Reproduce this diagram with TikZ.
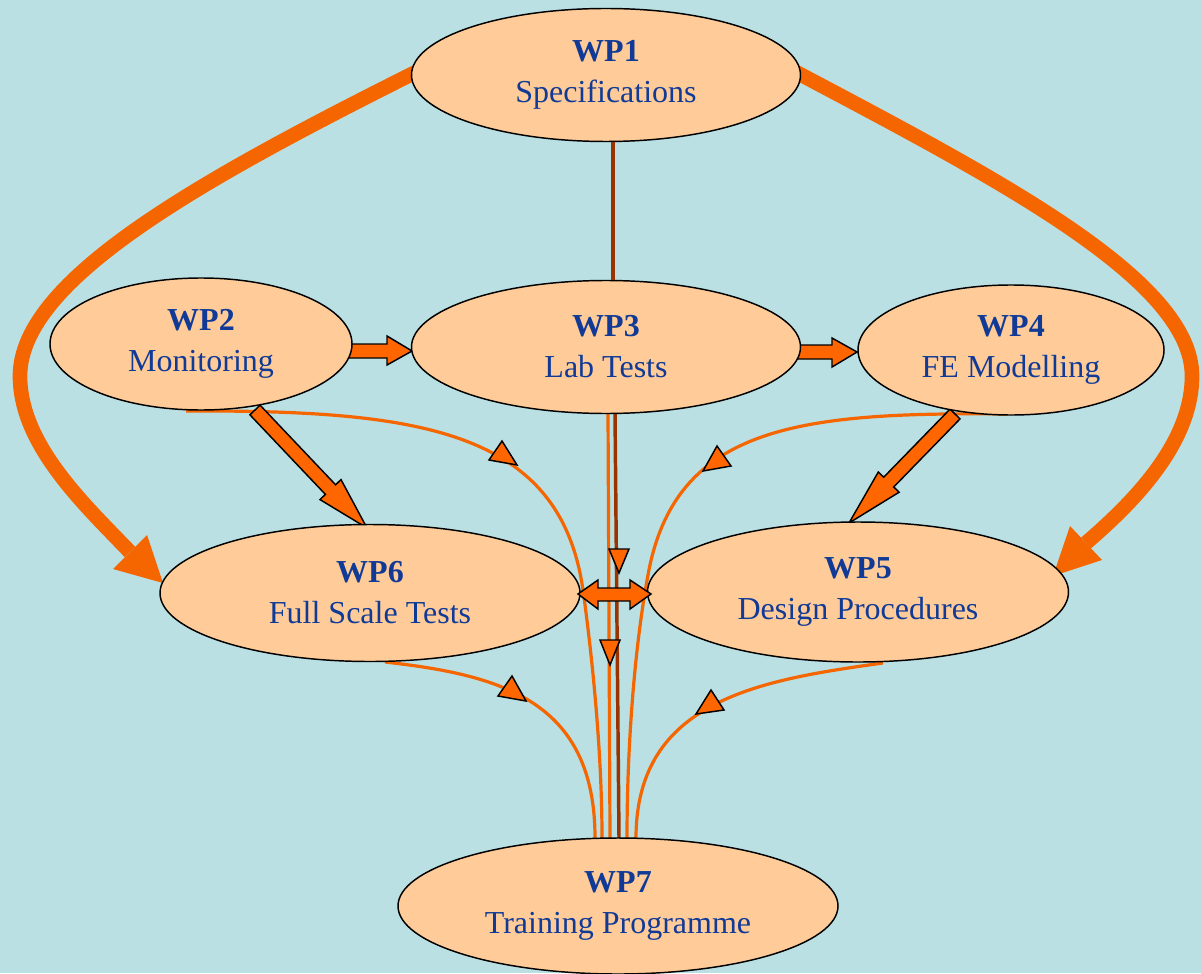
\documentclass[tikz,border=0pt]{standalone}
\usepackage{fontspec}
\setmainfont{Liberation Serif}
\usetikzlibrary{shapes.geometric}
\definecolor{bg}{RGB}{186,224,227}
\definecolor{peach}{RGB}{255,204,153}
\definecolor{navy}{RGB}{16,58,150}
\definecolor{orln}{RGB}{245,102,0}
\definecolor{orfill}{RGB}{255,102,0}
\definecolor{brownln}{RGB}{153,51,0}
\tikzset{
  wp/.style={ellipse, draw=black, line width=1.1pt, fill=peach, inner sep=0pt,
    align=center, text=navy, font=\fontsize{24}{30.75}\selectfont},
  thinln/.style={draw=orln, line width=2.4pt},
  thickln/.style={draw=orln, line width=11pt},
  brownline/.style={draw=brownln, line width=2.6pt},
  blockarrow/.style={fill=orfill, draw=black, line width=1.1pt, line join=miter},
  marker/.style={fill=orfill, draw=black, line width=1.1pt, line join=miter},
  bigtip/.style={fill=orln}
}
\begin{document}
\begin{tikzpicture}[x=0.75pt,y=-0.75pt]
\fill[bg] (0,0) rectangle (1201,973);
\useasboundingbox (0,0) rectangle (1201,973);

% named end points of the connectors
\coordinate (a1s) at (420,70);   \coordinate (a1e) at (130,552);
\coordinate (a2s) at (792,70);   \coordinate (a2e) at (1086,543);
\coordinate (c2s) at (186,411);  \coordinate (c2e) at (602,838);
\coordinate (c4s) at (1008,414); \coordinate (c4e) at (627,838);
\coordinate (c6s) at (385,662);  \coordinate (c6e) at (595,838);
\coordinate (c5s) at (883,663);  \coordinate (c5e) at (636,838);
\coordinate (v1s) at (608,413);  \coordinate (v1e) at (610,838);
\coordinate (b1s) at (615,413);  \coordinate (b1e) at (619,838);

% thick curves WP1 -> WP6 and WP1 -> WP5
\draw[thickln] (a1s) .. controls (200,180) and (20,280) .. (20,376)
                     .. controls (20,445) and (85,505) .. (a1e);
\fill[bigtip] (163,583) -- (113,569) -- (147,535) -- cycle;
\draw[thickln] (a2s) .. controls (1000,180) and (1192,280) .. (1192,376)
                     .. controls (1192,445) and (1130,505) .. (a2e);
\fill[bigtip] (1053,576) -- (1070,526) -- (1102,560) -- cycle;

% thin orange curves towards WP7
\draw[thinln] (c2s) .. controls (420,410) and (560,430) .. (583,590)
                    .. controls (594,670) and (602,760) .. (c2e);
\draw[thinln] (c4s) .. controls (800,412) and (675,425) .. (648,575)
                    .. controls (634,650) and (627,750) .. (c4e);
\draw[thinln] (c6s) .. controls (500,675) and (595,700) .. (c6e);
\draw[thinln] (c5s) .. controls (760,680) and (636,700) .. (c5e);
\draw[thinln] (v1s) -- (v1e);
\draw[brownline] (b1s) -- (b1e);

% block arrows
\draw[blockarrow] (346,344) -- (387,344) -- (387,336) -- (412,351) -- (387,365) -- (387,358) -- (346,358) -- cycle;
\draw[blockarrow] (797,345) -- (832,345) -- (832,338) -- (857,352) -- (832,367) -- (832,359) -- (797,359) -- cycle;
\draw[blockarrow] (249.9,414.8) -- (325.4,494.4) -- (320,499.6) -- (367,528) -- (341,479.6) -- (335.6,484.8) -- (260.1,405.2) -- cycle;
\draw[blockarrow] (960,418.9) -- (893.7,487) -- (899.1,492.2) -- (849,523) -- (878.3,472) -- (883.7,477.2) -- (950,409.1) -- cycle;

% work packages
\node[wp, minimum width=291.75pt, minimum height=99.75pt] (wp1) at (606,75) {\textbf{WP1}\\Specifications};
\node[wp, minimum width=226.5pt, minimum height=99pt] (wp2) at (201,344) {\textbf{WP2}\\Monitoring};
\node[wp, minimum width=291.75pt, minimum height=99.75pt] (wp3) at (606,347) {\textbf{WP3}\\Lab Tests};
\node[wp, minimum width=229.5pt, minimum height=97.5pt] (wp4) at (1011,350) {\textbf{WP4}\\FE Modelling};
\node[wp, minimum width=315pt, minimum height=102.75pt] (wp6) at (370,593) {\textbf{WP6}\\Full Scale Tests};
\node[wp, minimum width=315.75pt, minimum height=105pt] (wp5) at (858,592) {\textbf{WP5}\\Design Procedures};
\node[wp, minimum width=330pt, minimum height=102pt] (wp7) at (618,906) {\textbf{WP7}\\Training Programme};

% WP1 -- WP3 link
\draw[brownline] (wp1.south) ++(7,0) coordinate (l1) -- (l1 |- wp3.north);

% double arrow WP6 <-> WP5
\draw[blockarrow] (578,594) -- (598,580) -- (598,588) -- (630,588) -- (630,580) -- (651,594) -- (630,609) -- (630,601) -- (598,601) -- (598,609) -- cycle;

% markers on the thin connectors
\draw[marker] (502,441) -- (489,460) -- (517,465) -- cycle;
\draw[marker] (717,446) -- (703,471) -- (731,466) -- cycle;
\draw[marker] (512,676) -- (498,696) -- (526,701) -- cycle;
\draw[marker] (711,690) -- (696,714) -- (724,710) -- cycle;
\draw[marker] (609,549) -- (629,549) -- (619,573) -- cycle;
\draw[marker] (600,640) -- (620,640) -- (610,665) -- cycle;
\end{tikzpicture}
\end{document}
